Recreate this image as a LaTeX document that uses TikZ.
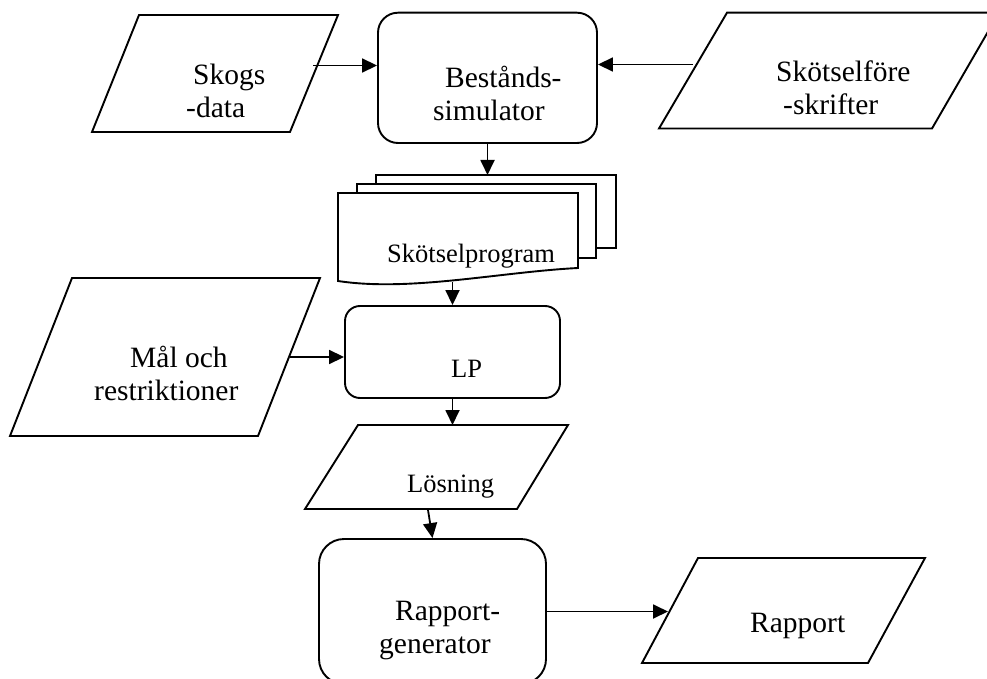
\documentclass[tikz,border=0pt]{standalone}
\usepackage{fontspec}
\setmainfont{Liberation Serif}
\usetikzlibrary{arrows.meta}
\begin{document}
\begin{tikzpicture}[x=1pt,y=-1pt,
  shapeline/.style={draw=black, line width=1.9pt, line join=miter, fill=white},
  procbox/.style={draw=black, line width=1.9pt, inner sep=0pt, fill=white},
  flow/.style={draw=black, line width=1.8pt, -{Triangle[length=15pt,width=14pt]}},
  bigtext/.style={inner sep=0pt, anchor=base west, font=\fontsize{29.5}{33}\selectfont},
  smalltext/.style={inner sep=0pt, anchor=base west, font=\fontsize{26.5}{30}\selectfont},
]
\useasboundingbox (0,0) rectangle (987,679);
\clip (0,0) rectangle (987,679);

% input data (parallelograms)
\path[shapeline] (139,15) -- (338,15) -- (290,132) -- (92,132) -- cycle;
\path[shapeline] (727,12.7) -- (999,12.7) -- (932,128.5) -- (659,128.5) -- cycle;
\path[shapeline] (72,278) -- (320,278) -- (258,436) -- (10,436) -- cycle;
\path[shapeline] (358,425) -- (568,425) -- (517,509) -- (305,509) -- cycle;
\path[shapeline] (698,558) -- (925,558) -- (868,663) -- (642,663) -- cycle;

% process boxes
\node[procbox, rounded corners=20pt, minimum width=219pt, minimum height=130.3pt] (sim) at (487.5,77.85) {};
\node[procbox, rounded corners=15pt, minimum width=215pt, minimum height=92pt] (lp) at (452.5,352) {};
\node[procbox, rounded corners=25pt, minimum width=227pt, minimum height=145pt] (gen) at (432.5,611.5) {};

% stack of documents
\path[shapeline] (376,175) rectangle (616,248);
\path[shapeline] (357,184) rectangle (596,258);
\path[shapeline] (338,193) -- (578,193) -- (578,268)
  .. controls (500,272) and (410,292) .. (338,281) -- cycle;

% texts
\node[bigtext] (t-skogs) at (193,85) {\begin{tabular}[t]{@{}l@{}}Skogs\\\hspace{-7pt}-data\end{tabular}};
\node[bigtext] (t-sim) at (445,88) {\begin{tabular}[t]{@{}l@{}}Bestånds-\\\hspace{-12pt}simulator\end{tabular}};
\node[bigtext] (t-fore) at (776,82) {\begin{tabular}[t]{@{}l@{}}Skötselföre\\\hspace{7pt}-skrifter\end{tabular}};
\node[smalltext] (t-prog) at (387,262) {Skötselprogram};
\node[bigtext] (t-mal) at (130,367) {\begin{tabular}[t]{@{}l@{}}Mål och\\\hspace{-36pt}restriktioner\end{tabular}};
\node[smalltext] (t-lp) at (451,377) {LP};
\node[smalltext] (t-los) at (407,492) {Lösning};
\node[bigtext] (t-gen) at (395,620) {\begin{tabular}[t]{@{}l@{}}Rapport-\\\hspace{-16pt}generator\end{tabular}};
\node[bigtext] (t-rap) at (750,632) {Rapport};

% connector end points on slanted edges and sheets
\coordinate (skogsout) at (313,65.5);
\coordinate (foreout) at (693,64.5);
\coordinate (stackin) at (487.5,175);
\coordinate (stackout) at (452.5,282);
\coordinate (malout) at (290,357);
\coordinate (losin) at (452.5,425);
\coordinate (losout) at (428,510);
\coordinate (rapin) at (668,611.5);

% connectors
\draw[flow] (skogsout) -- (skogsout -| sim.west);
\draw[flow] (foreout) -- (foreout -| sim.east);
\draw[flow] (sim.south) -- (stackin);
\draw[flow] (stackout) -- (lp.north);
\draw[flow] (malout) -- (malout -| lp.west);
\draw[flow] (lp.south) -- (losin);
\draw[flow] (losout) -- (gen.north);
\draw[flow] (gen.east) -- (rapin);
\end{tikzpicture}
\end{document}
